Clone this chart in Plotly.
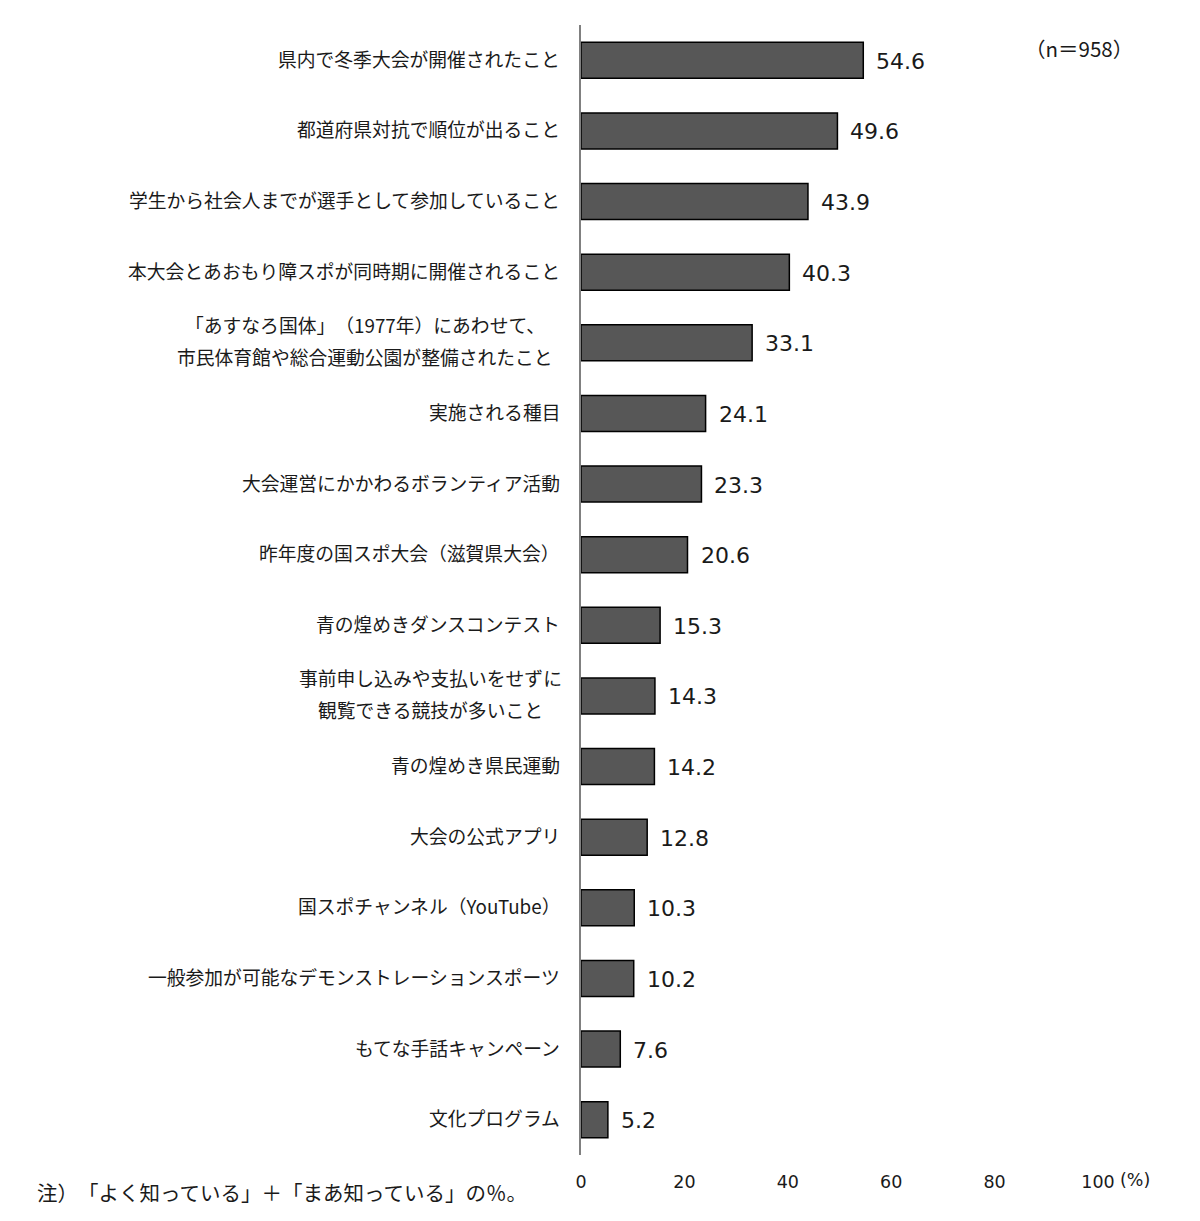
import plotly.graph_objects as go

ZW = "\u200b"  # zero-width space, keeps adjacent full-width brackets from being trimmed

categories = [
    "県内で冬季大会が開催されたこと",
    "都道府県対抗で順位が出ること",
    "学生から社会人までが選手として参加していること",
    "本大会とあおもり障スポが同時期に開催されること",
    f"「あすなろ国体」{ZW}（1977年）{ZW}にあわせて、\n市民体育館や総合運動公園が整備されたこと",
    "実施される種目",
    "大会運営にかかわるボランティア活動",
    "昨年度の国スポ大会（滋賀県大会）",
    "青の煌めきダンスコンテスト",
    "事前申し込みや支払いをせずに\n観覧できる競技が多いこと",
    "青の煌めき県民運動",
    "大会の公式アプリ",
    "国スポチャンネル（YouTube）",
    "一般参加が可能なデモンストレーションスポーツ",
    "もてな手話キャンペーン",
    "文化プログラム",
]
values = [54.6, 49.6, 43.9, 40.3, 33.1, 24.1, 23.3, 20.6, 15.3, 14.3, 14.2, 12.8, 10.3, 10.2, 7.6, 5.2]
x_ticks = [0, 20, 40, 60, 80, 100]
x_ticktext = ["0", "20", "40", "60", "80", "100"]
note_text = f"注）{ZW}「{ZW}よく知っている{ZW}」{ZW}＋{ZW}「{ZW}まあ知っている{ZW}」{ZW}の％{ZW}。"
n_text = f"{ZW}（{ZW}n＝958{ZW}）{ZW}"
unit_text = "(%)"

JP = "Noto Sans CJK JP"
NUM = "DejaVu Sans"
TXT = "#1a1a1a"
LABEL_FS = 18.8
GAP = 19

fig = go.Figure()
fig.add_trace(go.Bar(
    x=values, y=categories, orientation="h",
    marker=dict(color="#575757", line=dict(color="#000000", width=1.5)),
    hoverinfo="skip",
))

annotations = []
for cat, v in zip(categories, values):
    lines = cat.split("\n")
    if len(lines) == 1:
        annotations.append(dict(
            x=0, xref="paper", y=cat, yref="y", text=cat, showarrow=False,
            xanchor="right", yanchor="middle", xshift=-GAP, yshift=2,
            font=dict(family=JP, size=LABEL_FS, color=TXT)))
    else:
        maxw = max(len(l.replace(ZW, "")) for l in lines) * LABEL_FS
        n = len(lines)
        for i, l in enumerate(lines):
            annotations.append(dict(
                x=0, xref="paper", y=cat, yref="y", text=l, showarrow=False,
                xanchor="center", yanchor="middle", xshift=-(GAP + maxw / 2),
                yshift=(16 * (n - 1)) - 32 * i + 2,
                font=dict(family=JP, size=LABEL_FS, color=TXT)))
    annotations.append(dict(
        x=v, xref="x", y=cat, yref="y", text=f"{v:.1f}", showarrow=False,
        xanchor="left", yanchor="middle", xshift=11, yshift=-1,
        font=dict(family=NUM, size=22, color=TXT)))

annotations.append(dict(
    x=100, xref="x", y=0, yref="paper", text=unit_text, showarrow=False,
    xanchor="left", yanchor="middle", xshift=20, yshift=-25,
    font=dict(family=NUM, size=17.5, color=TXT)))
annotations.append(dict(
    x=1, xref="paper", y=1, yref="paper", text=n_text, showarrow=False,
    xanchor="right", yanchor="middle", xshift=37, yshift=-23,
    font=dict(family=JP, size=20.5, color=TXT)))
annotations.append(dict(
    x=0, xref="paper", y=0, yref="paper", text=note_text, showarrow=False,
    xanchor="left", yanchor="top", xshift=-546, yshift=-20,
    font=dict(family=JP, size=20.5, color=TXT)))

fig.update_layout(
    width=1192, height=1213,
    margin=dict(l=573, r=102, t=17, b=66),
    paper_bgcolor="white", plot_bgcolor="white",
    showlegend=False, bargap=0.49,
    annotations=annotations,
    xaxis=dict(range=[0, 100], tickvals=x_ticks, ticktext=x_ticktext,
               showgrid=False, zeroline=False, showline=False,
               ticks="", ticklabelstandoff=14,
               tickfont=dict(family=NUM, size=17.5, color=TXT), fixedrange=True),
    yaxis=dict(autorange="reversed", showticklabels=False, showgrid=False,
               zeroline=False, showline=True, linecolor="#808080", linewidth=2,
               ticks="", fixedrange=True),
)

fig.write_html("out.html")
